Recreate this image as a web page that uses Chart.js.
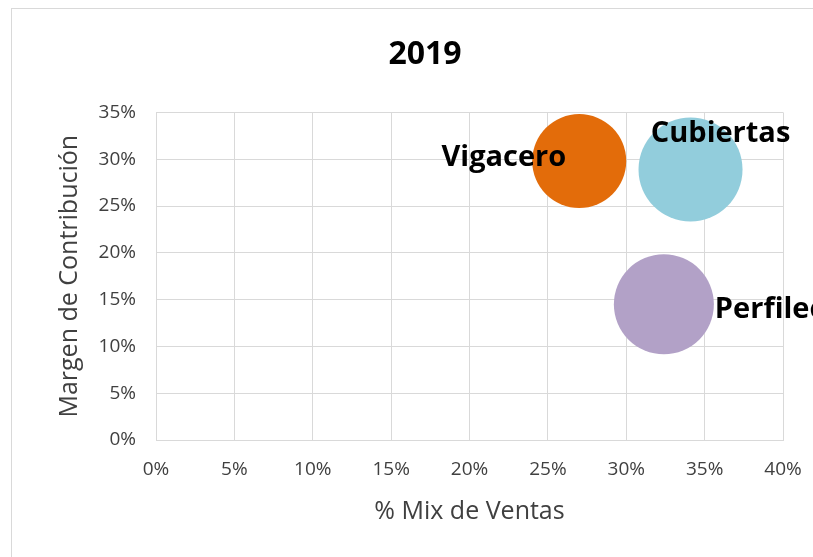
<!DOCTYPE html>
<html>
<head>
<meta charset="utf-8">
<script src="https://cdn.jsdelivr.net/npm/chart.js@4.4.1/dist/chart.umd.min.js"></script>
<style>
  html, body { margin: 0; padding: 0; background: #fff; overflow: hidden; }
  #wrap { position: relative; width: 850px; height: 557px; }
</style>
</head>
<body>
<div id="wrap"><canvas id="mixChart" width="850" height="557"></canvas></div>
<script>
// Datos (en %)
const empresas = ["Vigacero", "Cubiertas", "Perfilecol"];
const mixVentas = [27.0, 34.1, 32.4];
const margenContrib = [29.8, 28.9, 14.5];
const tamanoBurbuja = [47, 52, 50];
const colores = ["#E36C0A", "#92CDDC", "#B2A1C7"];
const posEtiqueta = ["left", "top", "right"];
const ticksX = [0, 5, 10, 15, 20, 25, 30, 35, 40];
const ticksY = [0, 5, 10, 15, 20, 25, 30, 35];

const fuente = "'Open Sans', 'Noto Sans', sans-serif";
const gris = "#d9d9d9";

// marco exterior del gráfico
const marco = {
  id: "marco",
  beforeDraw(chart) {
    const ctx = chart.ctx;
    ctx.save();
    ctx.fillStyle = "#fff";
    ctx.fillRect(0, 0, chart.width, chart.height);
    ctx.strokeStyle = gris;
    ctx.lineWidth = 1;
    ctx.strokeRect(11.5, 8.5, 1000, 1000);
    ctx.restore();
  },
};

// etiquetas de cada burbuja
const etiquetas = {
  id: "etiquetas",
  afterDatasetsDraw(chart) {
    const ctx = chart.ctx;
    ctx.save();
    ctx.font = "bold 29px " + fuente;
    ctx.fillStyle = "#000";
    ctx.textBaseline = "middle";
    chart.data.datasets.forEach((ds, i) => {
      const el = chart.getDatasetMeta(i).data[0];
      const r = el.options.radius;
      const pos = posEtiqueta[i];
      if (pos === "left") {
        ctx.textAlign = "right";
        ctx.fillText(ds.label, el.x - 13, el.y - 3);
      } else if (pos === "top") {
        ctx.textAlign = "center";
        ctx.fillText(ds.label, el.x + 30, el.y - 36);
      } else {
        ctx.textAlign = "left";
        ctx.fillText(ds.label, el.x + r + 1, el.y + 5);
      }
    });
    ctx.restore();
  },
};

const ctx = document.getElementById("mixChart").getContext("2d");
const mixChart = new Chart(ctx, {
  type: "bubble",
  data: {
    datasets: empresas.map((nombre, i) => ({
      label: nombre,
      data: [{ x: mixVentas[i], y: margenContrib[i], r: tamanoBurbuja[i] }],
      backgroundColor: colores[i],
      borderWidth: 0,
      clip: false,
    })),
  },
  options: {
    responsive: false,
    animation: false,
    events: [],
    layout: { padding: 0 },
    plugins: {
      legend: { display: false },
      tooltip: { enabled: false },
      title: {
        display: true,
        text: "2019",
        color: "#000",
        font: { family: fuente, size: 32, weight: "bold" },
        padding: { top: 36, bottom: 38 },
      },
    },
    scales: {
      x: {
        type: "linear",
        min: 0,
        max: 40,
        afterBuildTicks: (scale) => {
          scale.ticks = ticksX.map((v) => ({ value: v }));
        },
        afterFit: (scale) => {
          scale.height = 117;
        },
        grid: { color: gris, drawTicks: false },
        border: { color: gris },
        ticks: {
          color: "#404040",
          padding: 18,
          font: { family: fuente, size: 19 },
          callback: (v) => v + "%",
        },
        title: {
          display: true,
          text: "% Mix de Ventas",
          color: "#404040",
          font: { family: fuente, size: 25 },
          padding: { top: 0, bottom: 30 },
        },
      },
      y: {
        type: "linear",
        min: 0,
        max: 35,
        afterBuildTicks: (scale) => {
          scale.ticks = ticksY.map((v) => ({ value: v }));
        },
        afterFit: (scale) => {
          scale.width = 156;
        },
        grid: { color: gris, drawTicks: false },
        border: { color: gris },
        ticks: {
          color: "#404040",
          padding: 20,
          font: { family: fuente, size: 19 },
          callback: (v) => v + "%",
        },
        title: {
          display: true,
          text: "Margen de Contribución",
          color: "#404040",
          font: { family: fuente, size: 25 },
          padding: { top: 55, bottom: 0 },
        },
      },
      // espacio vacío a la derecha del área de trazado
      derecha: {
        type: "linear",
        position: "right",
        afterFit: (scale) => {
          scale.width = 67;
        },
        grid: { display: false },
        border: { display: false },
        ticks: { display: false },
      },
    },
  },
  plugins: [marco, etiquetas],
});
</script>
</body>
</html>
